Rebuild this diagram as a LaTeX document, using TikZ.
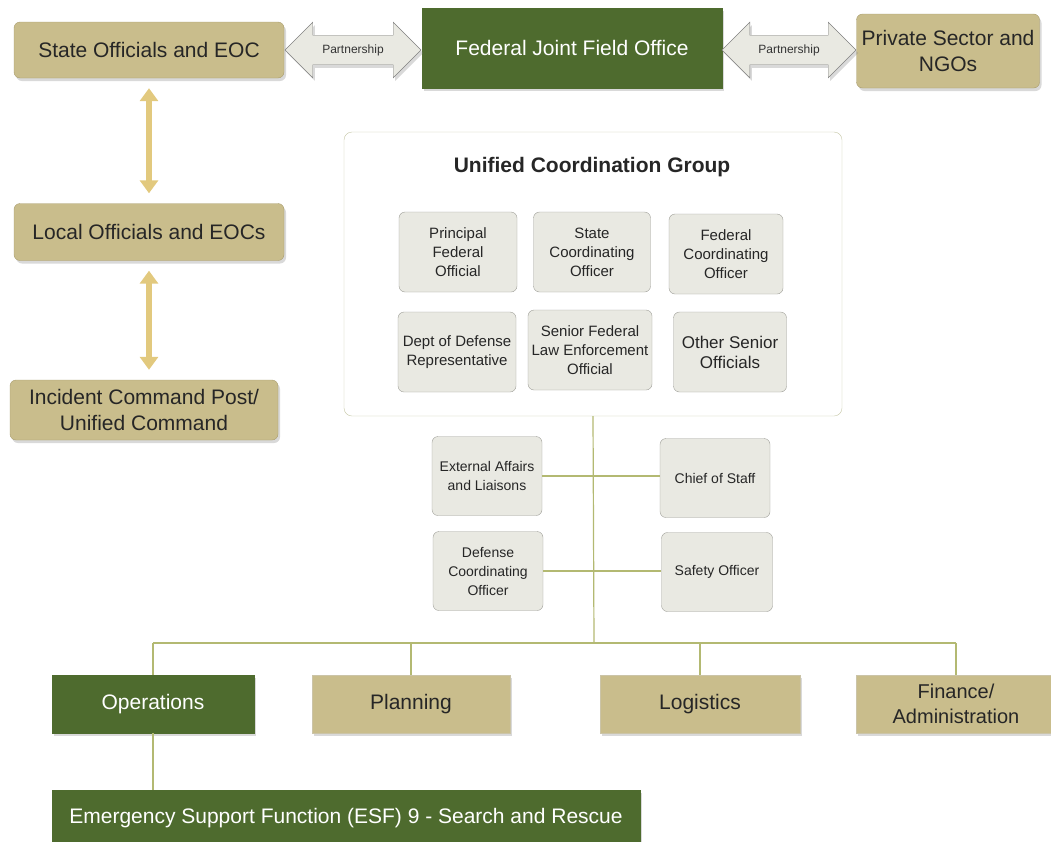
\documentclass[tikz,border=0pt]{standalone}
\usepackage{fontspec}
\setmainfont{Liberation Sans}
\usetikzlibrary{shapes.arrows,arrows.meta,shadows}

\definecolor{tanfill}{HTML}{C9BD8C}
\definecolor{tanedge}{HTML}{A99D6E}
\definecolor{fedgreen}{HTML}{4E6B2E}
\definecolor{boxgray}{HTML}{E9E9E2}
\definecolor{boxedge}{HTML}{9E9E98}
\definecolor{ucgedge}{HTML}{C4C6A4}
\definecolor{linkolive}{HTML}{B3B972}
\definecolor{arrowgold}{HTML}{E2C97E}

\tikzset{
  shade box/.style={drop shadow={opacity=0.3, shadow xshift=2pt, shadow yshift=-3pt}},
  tanbox/.style={shade box, rounded corners=6pt, fill=tanfill, draw=tanedge, align=center, inner sep=0pt, text=black!85, font=\fontsize{21}{26}\selectfont},
  sectbox/.style={shade box, fill=tanfill, draw=tanedge!60, align=center, inner sep=0pt, text=black!85, minimum height=58pt, font=\fontsize{21}{26}\selectfont},
  greenbox/.style={sectbox, fill=fedgreen, draw=fedgreen, text=white},
  ucgbox/.style={rounded corners=6pt, fill=boxgray, draw=boxedge, align=center, inner sep=0pt, minimum width=118pt, minimum height=80pt, text=black!85, font=\fontsize{15}{19}\selectfont},
  staffbox/.style={ucgbox, minimum width=110pt, minimum height=79pt, font=\fontsize{14}{19}\selectfont},
  pship/.style={shade box, double arrow, double arrow head extend=13pt, draw=gray, fill=boxgray, inner xsep=2pt, inner ysep=9pt, text=black!80, font=\fontsize{12}{14}\selectfont},
  link/.style={draw=linkolive, line width=1.2pt},
  goldarrow/.style={draw=arrowgold, line width=6pt, {Triangle[width=18pt,length=13pt,fill=arrowgold]}-{Triangle[width=18pt,length=13pt,fill=arrowgold]}, shorten <=10pt, shorten >=10pt}
}

\begin{document}
\begin{tikzpicture}[x=1pt, y=-1pt]
  \useasboundingbox (0,0) rectangle (1051,841);

  % top row
  \node[tanbox, minimum width=270pt, minimum height=56pt] (state) at (149,50) {State Officials and EOC};
  \node[greenbox, minimum width=300pt, minimum height=80pt] (fed) at (572,48) {Federal Joint Field Office};
  \node[tanbox, minimum width=183pt, minimum height=74pt] (priv) at (948,51) {Private Sector and\\NGOs};
  \node[pship, minimum height=136pt] (pleft) at (353,50) {Partnership};
  \node[pship, minimum height=134pt] (pright) at (789,50) {Partnership};

  % left column
  \node[tanbox, minimum width=270pt, minimum height=57pt] (local) at (149,232) {Local Officials and EOCs};
  \node[tanbox, minimum width=268pt, minimum height=60pt] (icp) at (144,410) {Incident Command Post/\\Unified Command};
  \draw[goldarrow] (state.south) -- (local.north);
  \draw[goldarrow] (local.south) -- (local.south |- icp.north);

  % unified coordination group
  \node[rounded corners=8pt, draw=ucgedge, fill=white, minimum width=498pt, minimum height=284pt] (ucg) at (593,274) {};
  \node[font=\bfseries\fontsize{21}{25}\selectfont, text=black!85] (ucgtitle) at (592,167) {Unified Coordination Group};
  \node[ucgbox] (pfo) at (458,252) {Principal\\Federal\\Official};
  \node[ucgbox, minimum width=117pt] (sco) at (592,252) {State\\Coordinating\\Officer};
  \node[ucgbox, minimum width=114pt] (fco) at (726,254) {Federal\\Coordinating\\Officer};
  \node[ucgbox] (dod) at (457,352) {Dept of Defense\\Representative};
  \node[ucgbox, minimum width=124pt] (sfleo) at (590,350) {Senior Federal\\Law Enforcement\\Official};
  \node[ucgbox, minimum width=113pt, font=\fontsize{17}{20}\selectfont] (other) at (730,352) {Other Senior\\Officials};

  % command staff
  \coordinate (busM) at (594,643);
  \node[staffbox] (ext) at (487,476) {External Affairs\\and Liaisons};
  \node[staffbox] (cos) at (715,478) {Chief of Staff};
  \node[staffbox] (dco) at (488,571) {Defense\\Coordinating\\Officer};
  \node[staffbox, minimum width=111pt] (safe) at (717,572) {Safety Officer};
  \path[link] (ucg.south) edge (busM)
    (ext.east) edge (ext.east -| cos.west)
    (dco.east) edge (dco.east -| safe.west);

  % sections
  \node[greenbox, minimum width=202pt] (ops) at (153,704) {Operations};
  \node[sectbox, minimum width=198pt] (plan) at (411,704) {Planning};
  \node[sectbox, minimum width=200pt] (logi) at (700,704) {Logistics};
  \node[sectbox, minimum width=200pt, font=\fontsize{20}{25}\selectfont] (fin) at (956,704) {Finance/\\Administration};
  \node[greenbox, minimum width=588pt, minimum height=56pt] (esf) at (346,818) {Emergency Support Function (ESF) 9 - Search and Rescue};
  \path[link] (ops.north |- busM) edge (fin.north |- busM)
    (ops.north) edge (ops.north |- busM)
    (plan.north) edge (plan.north |- busM)
    (logi.north) edge (logi.north |- busM)
    (fin.north) edge (fin.north |- busM)
    (ops.south) edge (ops.south |- esf.north);
\end{tikzpicture}
\end{document}
